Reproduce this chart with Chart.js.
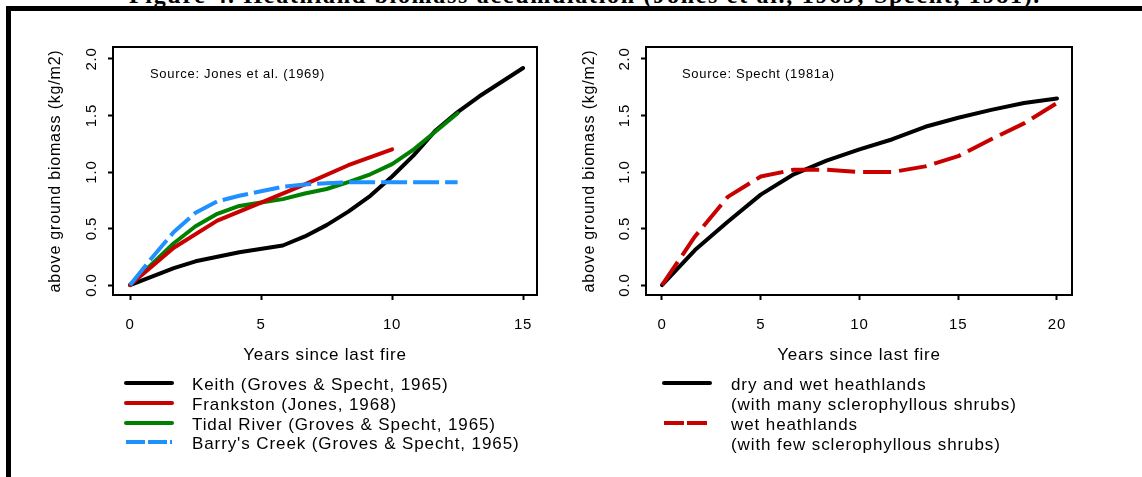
<!DOCTYPE html>
<html>
<head>
<meta charset="utf-8">
<script src="https://cdn.jsdelivr.net/npm/chart.js@4.4.1/dist/chart.umd.min.js"></script>
<style>
body { margin: 0; background: #fff; }
#page { position: relative; width: 1142px; height: 477px; overflow: hidden; font-family: "Liberation Sans", Arial, sans-serif; color: #000; }
#caption { position: absolute; left: 0; top: -17px; width: 1170px; text-align: center; font: bold 24px "Liberation Serif", "Times New Roman", serif; line-height: 24px; letter-spacing: 1.7px; white-space: nowrap; }
.frameTop { position: absolute; left: 6px; top: 6px; width: 1136px; height: 5px; background: #000; }
.frameLeft { position: absolute; left: 6px; top: 6px; width: 5px; height: 471px; background: #000; }
.panel { position: absolute; top: 0; }
.source { position: absolute; font-size: 13px; line-height: 15px; letter-spacing: 0.7px; white-space: nowrap; }
.legText { position: absolute; font-size: 17px; line-height: 20px; letter-spacing: 0.9px; white-space: nowrap; }
.legLine { position: absolute; }
</style>
</head>
<body>
<div id="page">
  <div id="caption">Figure 4. Heathland biomass accumulation (Jones et al., 1969; Specht, 1981).</div>
  <div class="frameTop"></div>
  <div class="frameLeft"></div>
  <div class="panel" style="left:0px;width:560px;height:380px"><canvas id="leftChart" width="560" height="380"></canvas></div>
  <div class="panel" style="left:560px;width:560px;height:380px"><canvas id="rightChart" width="560" height="380"></canvas></div>
  <div class="source" style="left:150px;top:66px">Source: Jones et al. (1969)</div>
  <div class="source" style="left:682px;top:66px">Source: Specht (1981a)</div>
  <div id="legends"></div>
</div>
<script>
// tick labels
const leftXTicks = [0, 5, 10, 15];
const rightXTicks = [0, 5, 10, 15, 20];
const yTicks = [0, 0.5, 1, 1.5, 2];

// left panel (Jones et al. 1969)
const keithYears = [0, 1.67, 2.5, 4.17, 5.83, 6.67, 7.5, 8.33, 9.17, 10, 10.83, 11.67, 12.5, 13.33, 15];
const keithBiomass = [0, 0.15, 0.21, 0.29, 0.35, 0.43, 0.53, 0.65, 0.79, 0.96, 1.15, 1.37, 1.53, 1.67, 1.92];
const frankstonYears = [0, 1.67, 3.33, 5, 6.67, 8.33, 10];
const frankstonBiomass = [0, 0.33, 0.57, 0.73, 0.89, 1.06, 1.2];
const tidalYears = [0, 1.67, 2.5, 3.33, 4.17, 5, 5.83, 6.67, 7.5, 8.33, 9.17, 10, 10.83, 11.67, 12.5];
const tidalBiomass = [0, 0.37, 0.52, 0.63, 0.70, 0.73, 0.76, 0.81, 0.85, 0.91, 0.98, 1.07, 1.2, 1.36, 1.52];
const barrysYears = [0, 0.83, 1.67, 2.5, 3.33, 4.17, 5, 5.83, 6.67, 7.5, 8.33, 9.17, 10, 10.83, 11.67, 12.5];
const barrysBiomass = [0, 0.24, 0.47, 0.64, 0.74, 0.79, 0.83, 0.87, 0.89, 0.9, 0.91, 0.91, 0.91, 0.91, 0.91, 0.91];

// right panel (Specht 1981a)
const spechtYears = [0, 1.67, 3.33, 5, 6.67, 8.33, 10, 11.67, 13.33, 15, 16.67, 18.33, 20];
const dryWetBiomass = [0, 0.31, 0.56, 0.80, 0.98, 1.10, 1.20, 1.29, 1.40, 1.48, 1.55, 1.61, 1.65];
const wetBiomass = [0, 0.43, 0.78, 0.96, 1.02, 1.02, 1.0, 1.0, 1.05, 1.14, 1.29, 1.43, 1.61];

const leftLabels = ["Keith (Groves & Specht, 1965)", "Frankston (Jones, 1968)", "Tidal River (Groves & Specht, 1965)", "Barry's Creek (Groves & Specht, 1965)"];
const rightLabels = ["dry and wet heathlands", "wet heathlands"];
const rightSubLabels = ["(with many sclerophyllous shrubs)", "(with few sclerophyllous shrubs)"];

const BLACK = '#000000', RED = '#c80000', GREEN = '#008000', BLUE = '#1e90ff';
const FONT = '"Liberation Sans", Arial, sans-serif';

function pts(xs, ys) {
    return xs.map(function (x, i) { return { x: x, y: ys[i] }; });
}

function line(label, xs, ys, color, dash, order) {
    return {
        label: label,
        data: pts(xs, ys),
        borderColor: color,
        backgroundColor: color,
        borderWidth: 4,
        borderDash: dash,
        borderCapStyle: dash.length ? 'butt' : 'round',
        borderJoinStyle: 'round',
        pointRadius: 0,
        tension: 0,
        order: order
    };
}

// box around plot area, R style
const boxPlugin = {
    id: 'box',
    beforeDraw(chart) { chart.ctx.letterSpacing = '0.8px'; },
    afterDatasetsDraw(chart) {
        const a = chart.chartArea, ctx = chart.ctx;
        ctx.save();
        ctx.strokeStyle = '#000';
        ctx.lineWidth = 2;
        ctx.strokeRect(a.left, a.top, a.right - a.left, a.bottom - a.top);
        ctx.restore();
    }
};

function panelOptions(cfg) {
    const tickGrid = { drawOnChartArea: false, drawTicks: true, tickLength: 5, tickWidth: 2, tickColor: '#000' };
    return {
        responsive: false,
        animation: false,
        events: [],
        layout: { padding: { left: 0, top: 47, right: cfg.padRight, bottom: 0 } },
        plugins: { legend: { display: false }, tooltip: { enabled: false } },
        scales: {
            x: {
                type: 'linear', min: cfg.xMin, max: cfg.xMax,
                afterBuildTicks: function (s) { s.ticks = cfg.xTicks.map(function (v) { return { value: v }; }); },
                afterFit: function (s) { s.height = 85; },
                grid: tickGrid,
                border: { display: false },
                ticks: { color: '#000', padding: 16, maxRotation: 0, font: { family: FONT, size: 15 } },
                title: { display: true, text: 'Years since last fire', color: '#000', font: { family: FONT, size: 17 }, padding: { top: 0, bottom: 14 } }
            },
            y: {
                type: 'linear', min: -0.088, max: 2.106,
                afterBuildTicks: function (s) { s.ticks = yTicks.map(function (v) { return { value: v }; }); },
                afterFit: function (s) { s.width = cfg.yWidth; },
                grid: tickGrid,
                border: { display: false },
                ticks: { color: '#000', padding: 6, minRotation: 90, maxRotation: 90, crossAlign: 'center', font: { family: FONT, size: 15 },
                         callback: function (v) { return Number(v).toFixed(1); } },
                title: { display: true, text: 'above ground biomass (kg/m2)', color: '#000', font: { family: FONT, size: 16 }, padding: { top: cfg.yTitlePad, bottom: 0 } }
            }
        }
    };
}

const leftData = [
    line(leftLabels[0], keithYears, keithBiomass, BLACK, [], 4),
    line(leftLabels[1], frankstonYears, frankstonBiomass, RED, [], 2),
    line(leftLabels[2], tidalYears, tidalBiomass, GREEN, [], 3),
    line(leftLabels[3], barrysYears, barrysBiomass, BLUE, [26, 6], 1)
];
const rightData = [
    line(rightLabels[0], spechtYears, dryWetBiomass, BLACK, [], 2),
    line(rightLabels[1], spechtYears, wetBiomass, RED, [28, 8], 1)
];

new Chart(document.getElementById('leftChart'), {
    type: 'line',
    data: { datasets: leftData },
    options: panelOptions({ xMin: -0.65, xMax: 15.53, xTicks: leftXTicks, yWidth: 113, padRight: 23, yTitlePad: 46 }),
    plugins: [boxPlugin]
});

new Chart(document.getElementById('rightChart'), {
    type: 'line',
    data: { datasets: rightData },
    options: panelOptions({ xMin: -0.81, xMax: 20.76, xTicks: rightXTicks, yWidth: 86, padRight: 48, yTitlePad: 20 }),
    plugins: [boxPlugin]
});

// legends below the panels
const legendLeftDash = [[], [], [], [19, 3]];
const legendRightDash = [[], [20, 3]];
const legends = document.getElementById('legends');

function legendSample(x0, x1, y, color, dash) {
    const ns = 'http://www.w3.org/2000/svg';
    const svg = document.createElementNS(ns, 'svg');
    svg.setAttribute('class', 'legLine');
    svg.setAttribute('width', x1 - x0 + 6);
    svg.setAttribute('height', 10);
    svg.style.left = (x0 - 3) + 'px';
    svg.style.top = (y - 5) + 'px';
    const l = document.createElementNS(ns, 'line');
    l.setAttribute('x1', 3); l.setAttribute('x2', x1 - x0 + 3);
    l.setAttribute('y1', 5); l.setAttribute('y2', 5);
    l.setAttribute('stroke', color);
    l.setAttribute('stroke-width', 4);
    l.setAttribute('stroke-linecap', dash.length ? 'butt' : 'round');
    if (dash.length) l.setAttribute('stroke-dasharray', dash.join(' '));
    svg.appendChild(l);
    legends.appendChild(svg);
}

function legendText(x, top, text) {
    const d = document.createElement('div');
    d.className = 'legText';
    d.style.left = x + 'px';
    d.style.top = top + 'px';
    d.textContent = text;
    legends.appendChild(d);
}

leftData.forEach(function (ds, i) {
    const y = 383 + i * 19.8;
    legendSample(126, 172, y, ds.borderColor, legendLeftDash[i]);
    legendText(192, y - 8, ds.label);
});

rightData.forEach(function (ds, i) {
    const y = 383 + i * 39.6;
    legendSample(664, 710, y, ds.borderColor, legendRightDash[i]);
    legendText(731, y - 8, ds.label);
    legendText(731, y + 12, rightSubLabels[i]);
});
</script>
</body>
</html>
